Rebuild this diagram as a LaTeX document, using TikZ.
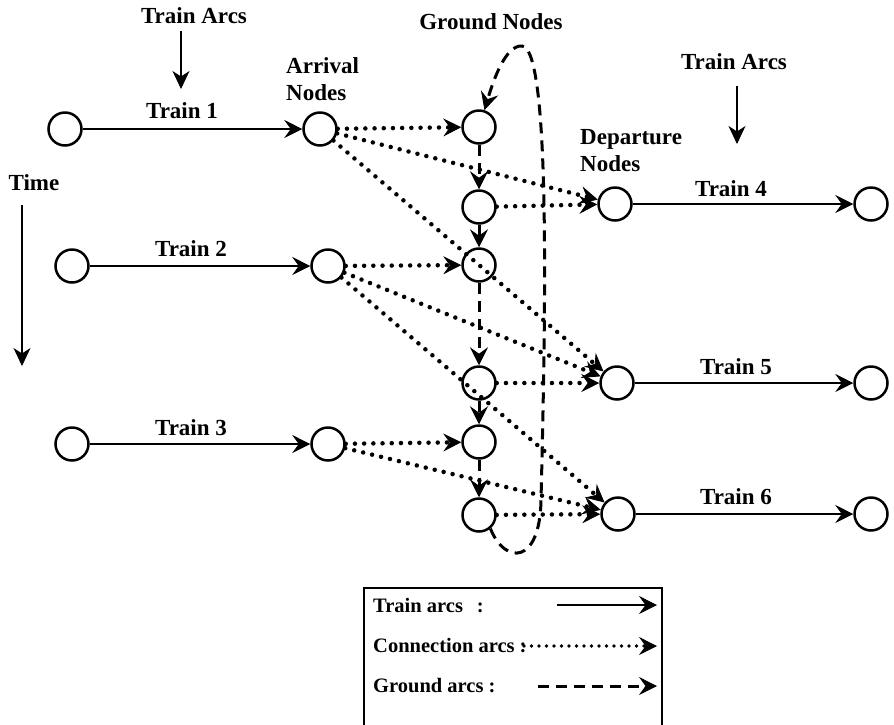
\documentclass[tikz,border=0pt]{standalone}
\usepackage{fontspec}
\setmainfont{Liberation Serif}
\usetikzlibrary{arrows.meta}

\tikzset{
  stn/.style={circle, draw, line width=2.5pt, minimum size=33pt, inner sep=0pt},
  lbl/.style={font=\fontsize{23}{25}\selectfont\bfseries, inner sep=0pt},
  leg/.style={font=\fontsize{20.5}{22}\selectfont\bfseries, inner sep=0pt, anchor=west},
  tip/.style={-{Stealth[length=18pt, width=18pt, inset=6.5pt, line width=0.8pt]}},
  trainarc/.style={line width=2.5pt, tip},
  connarc/.style={line width=4.5pt, line cap=round, dash pattern=on 0pt off 9.2pt, tip},
  gndarc/.style={line width=3pt, dash pattern=on 11pt off 7pt, tip},
  pointer/.style={line width=2.5pt, -{Stealth[length=18pt, width=17pt, inset=5.5pt, line width=0.8pt]}}
}

\begin{document}
\begin{tikzpicture}[x=1pt, y=-1pt]
\useasboundingbox (0,0) rectangle (894,724);

% stations: origins, arrivals, ground, departures, destinations
\node[stn] (S1) at (65,129) {};
\node[stn] (A1) at (320,129) {};
\node[stn] (S2) at (72,266) {};
\node[stn] (A2) at (328,266) {};
\node[stn] (S3) at (72,444) {};
\node[stn] (A3) at (328,444) {};

\node[stn] (G1) at (479,127) {};
\node[stn] (G2) at (479,207) {};
\node[stn] (G3) at (479,265) {};
\node[stn] (G4) at (479,383) {};
\node[stn] (G5) at (479,442) {};
\node[stn] (G6) at (479,515) {};

\node[stn] (D4) at (615,204) {};
\node[stn] (E4) at (871,204) {};
\node[stn] (D5) at (617,383) {};
\node[stn] (E5) at (871,383) {};
\node[stn] (D6) at (618,514) {};
\node[stn] (E6) at (871,514) {};

% train arcs
\draw[trainarc] (S1) -- (A1);
\draw[trainarc] (S2) -- (A2);
\draw[trainarc] (S3) -- (A3);
\draw[trainarc] (D4) -- (E4);
\draw[trainarc] (D5) -- (E5);
\draw[trainarc] (D6) -- (E6);

% connection arcs
\draw[connarc] (A1) -- (G1);
\draw[connarc] (A1) -- (D4);
\draw[connarc] (A1) -- (D5);
\draw[connarc] (G2) -- (D4);
\draw[connarc] (A2) -- (G3);
\draw[connarc] (A2) -- (D5);
\draw[connarc] (A2) -- (D6);
\draw[connarc] (G4) -- (D5);
\draw[connarc] (A3) -- (G5);
\draw[connarc] (A3) -- (D6);
\draw[connarc] (G6) -- (D6);

% ground arcs
\draw[gndarc] (G1) -- (G2);
\draw[gndarc] (G2) -- (G3);
\draw[gndarc] (G3) -- (G4);
\draw[gndarc] (G4) -- (G5);
\draw[gndarc] (G5) -- (G6);
\draw[gndarc] (G6.-50) .. controls (505,565) and (540,565) .. (541,500)
  .. controls (546,300) and (550,48) .. (522,46)
  .. controls (506,45) and (494,78) .. (G1.72);

% labels
\node[lbl] (ta1) at (194,16) {Train Arcs};
\coordinate (ta1a) at (181,31);
\coordinate (ta1b) at (181,89);
\draw[pointer] (ta1a) -- (ta1b);

\node[lbl] (ta2) at (734,62) {Train Arcs};
\coordinate (ta2a) at (737,86);
\coordinate (ta2b) at (737,144);
\draw[pointer] (ta2a) -- (ta2b);

\node[lbl] (tm) at (34,183) {Time};
\coordinate (tma) at (22,205);
\coordinate (tmb) at (22,366);
\draw[pointer] (tma) -- (tmb);

\node[lbl] (gn) at (491,22) {Ground Nodes};
\node[lbl, align=left, anchor=west] (an) at (286,79) {Arrival\\[2pt]Nodes};
\node[lbl, align=left, anchor=west] (dn) at (580,151) {Departure\\[2pt]Nodes};

\node[lbl] (t1) at (182,111) {Train 1};
\node[lbl] (t2) at (191,249) {Train 2};
\node[lbl] (t3) at (191,428) {Train 3};
\node[lbl] (t4) at (731,189) {Train 4};
\node[lbl] (t5) at (736,367) {Train 5};
\node[lbl] (t6) at (736,497) {Train 6};

% legend
\draw[line width=1.5pt] (662,726) -- (662,588) -- (364,588) -- (364,726);
\node[leg] (l1) at (373,606) {Train arcs\hspace{14pt}:};
\node[leg] (l2) at (373,646) {Connection arcs :};
\node[leg] (l3) at (373,686) {Ground arcs :};
\coordinate (l1a) at (557,605);
\coordinate (l1b) at (657,605);
\coordinate (l2a) at (524,646);
\coordinate (l2b) at (657,646);
\coordinate (l3a) at (538,686);
\coordinate (l3b) at (657,686);
\draw[trainarc] (l1a) -- (l1b);
\draw[connarc, line width=3.8pt, dash pattern=on 0pt off 7.5pt] (l2a) -- (l2b);
\draw[gndarc] (l3a) -- (l3b);
\end{tikzpicture}
\end{document}
